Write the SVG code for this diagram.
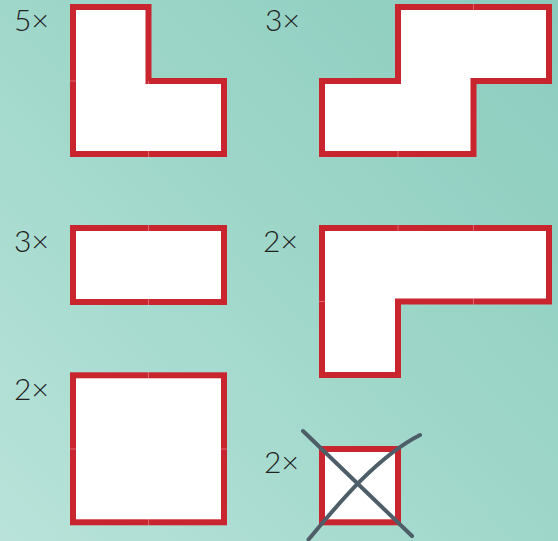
<svg xmlns="http://www.w3.org/2000/svg" width="558" height="541" viewBox="0 0 558 541">
<defs>
<linearGradient id="bg" x1="0" y1="541" x2="558" y2="0" gradientUnits="userSpaceOnUse">
<stop offset="0" stop-color="#b9e3da"/>
<stop offset="0.5" stop-color="#9fd7ca"/>
<stop offset="1" stop-color="#8bccbe"/>
</linearGradient>
</defs>
<style>
.shape{fill:#ffffff;stroke:#c9252f;stroke-width:6;stroke-linejoin:miter}
.grid{fill:none;stroke:#ffffff;stroke-opacity:0.3;stroke-width:1}
.lbl{font-family:Lato,"Open Sans","Liberation Sans",sans-serif;font-weight:300;font-size:30px;fill:#222222}
.cross{fill:none;stroke:#4d5e68;stroke-width:4;stroke-linecap:round}
</style>
<rect x="0" y="0" width="558" height="541" fill="url(#bg)"/>

<g id="piece-l">
<path class="shape" d="M73,7 H148.5 V81 H224 V154 H73 Z"/>
<path class="grid" d="M148.5,81 V157 M70,81 H76"/>
<text class="lbl" x="14" y="31">5×</text>
</g>

<g id="piece-s">
<path class="shape" d="M398,7 H549 V81 H473.5 V154 H322 V81 H398 Z"/>
<path class="grid" d="M473.5,4 V10 M398,151 V157"/>
<text class="lbl" x="265" y="31">3×</text>
</g>

<g id="piece-domino">
<rect class="shape" x="73" y="228" width="151" height="74"/>
<path class="grid" d="M148.5,225 V231 M148.5,299 V305"/>
<text class="lbl" x="14" y="252">3×</text>
</g>

<g id="piece-big-l">
<path class="shape" d="M322,228 H549 V301.5 H398 V375 H322 Z"/>
<path class="grid" d="M398,225 V231 M473.5,225 V231 M473.5,298.5 V304.5 M319,301.5 H325"/>
<text class="lbl" x="263" y="252">2×</text>
</g>

<g id="piece-square">
<rect class="shape" x="73" y="375.3" width="151" height="147"/>
<path class="grid" d="M148.5,372.3 V378.3 M148.5,519.3 V525.3 M70,449 H76 M221,449 H227"/>
<text class="lbl" x="14" y="400">2×</text>
</g>

<g id="piece-crossed">
<rect class="shape" x="322" y="449" width="76" height="73.3"/>
<text class="lbl" x="264" y="473">2×</text>
<path class="cross" d="M303,431 L412,536"/>
<path class="cross" d="M308.5,539.5 C335,508 375,458 420,435"/>
</g>
</svg>
